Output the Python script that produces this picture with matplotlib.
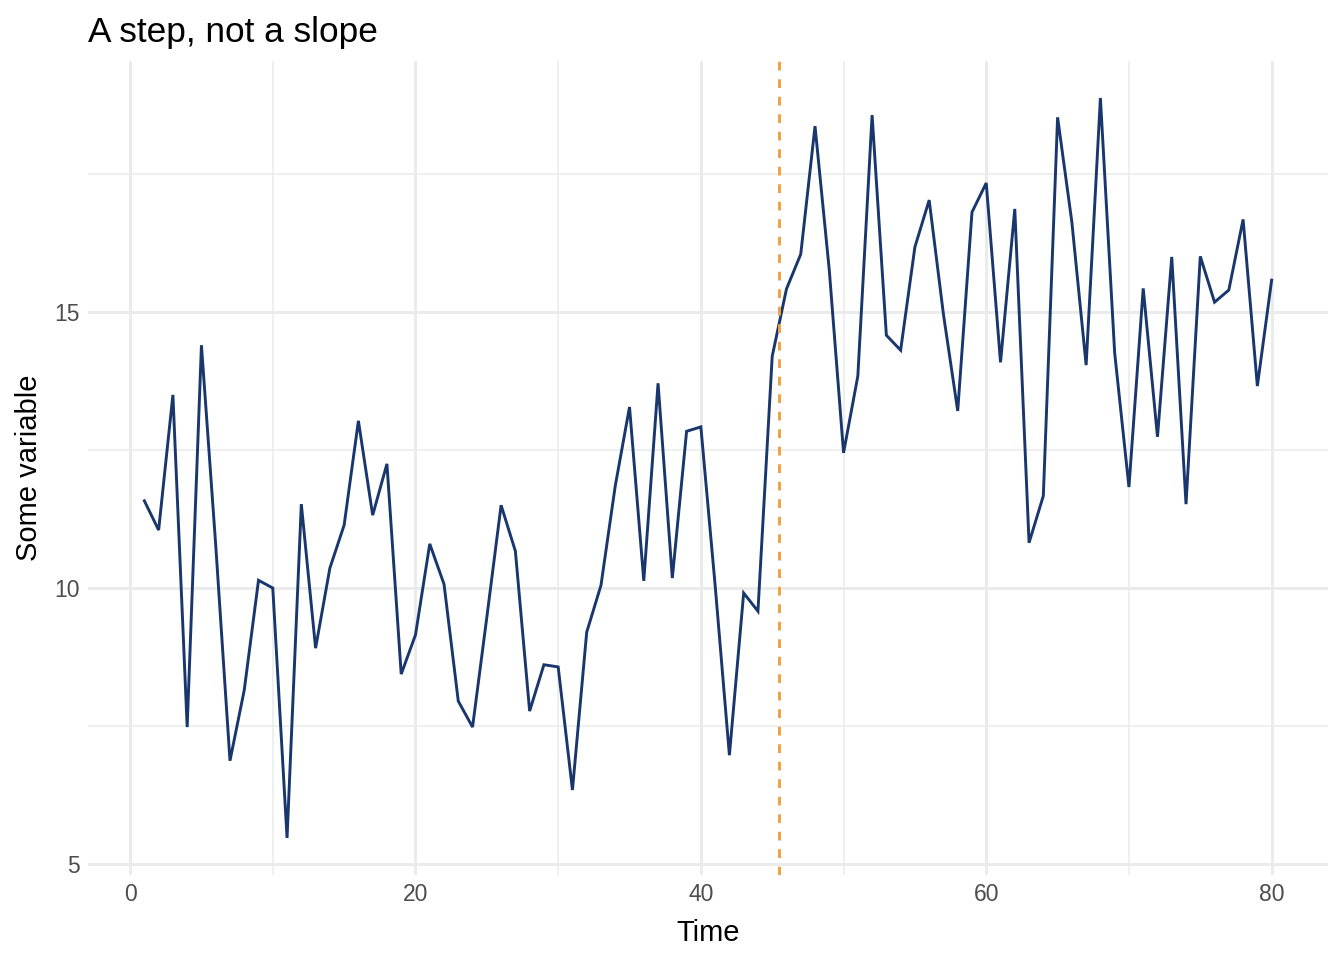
import matplotlib
matplotlib.use("Agg")
import matplotlib.pyplot as plt
from matplotlib.ticker import MultipleLocator

time = list(range(1, 81))
value = [11.58, 11.05, 13.50, 7.48, 14.40, 10.78, 6.87, 8.15, 10.14, 10.00,
         5.47, 11.52, 8.91, 10.36, 11.14, 13.03, 11.32, 12.25, 8.44, 9.15,
         10.80, 10.07, 7.95, 7.48, 9.47, 11.50, 10.67, 7.77, 8.61, 8.57,
         6.34, 9.20, 10.05, 11.85, 13.28, 10.13, 13.71, 10.18, 12.84, 12.92,
         10.05, 6.97, 9.91, 9.58, 14.20, 15.42, 16.05, 18.37, 15.76, 12.45,
         13.84, 18.57, 14.58, 14.31, 16.18, 17.03, 14.96, 13.21, 16.81, 17.34,
         14.09, 16.87, 10.82, 11.67, 18.53, 16.63, 14.04, 18.88, 14.26, 11.83,
         15.43, 12.74, 16.00, 11.52, 16.01, 15.18, 15.40, 16.68, 13.66, 15.58]
step_time = 45.5
x_ticks = [0, 20, 40, 60, 80]
y_ticks = [5, 10, 15]

plt.rcParams['font.family'] = ['Liberation Sans', 'DejaVu Sans']

fig = plt.figure(figsize=(13.44, 9.6), dpi=100)
ax = fig.add_axes([88/1344, 85/960, (1328-88)/1344, (875-61)/960])

ax.plot(time, value, color="#19376D", lw=2.1, zorder=3, solid_joinstyle='miter')
ax.axvline(step_time, color="#EFA142", lw=2.1, ls=(0, (3.0, 3.0)), zorder=4)

xspan = max(time) - min(time)
ax.set_xlim(min(time) - 0.05*xspan, max(time) + 0.05*xspan)
yspan = max(value) - min(value)
ax.set_ylim(min(value) - 0.05*yspan, max(value) + 0.05*yspan)

ax.set_xticks(x_ticks)
ax.set_yticks(y_ticks)
ax.xaxis.set_minor_locator(MultipleLocator(10))
ax.yaxis.set_minor_locator(MultipleLocator(2.5))
ax.grid(which='major', color="#EBEBEB", lw=2.1, zorder=0)
ax.grid(which='minor', color="#EBEBEB", lw=1.1, zorder=0)
ax.set_axisbelow(True)
for s in ax.spines.values():
    s.set_visible(False)
ax.tick_params(which='both', length=0)
ax.tick_params(axis='both', labelsize=16.5, labelcolor="#4D4D4D", pad=6)

ax.set_xlabel("Time", fontsize=21, color="black", labelpad=9)
ax.set_ylabel("Some variable", fontsize=21, color="black", labelpad=8)
ax.set_title("A step, not a slope", fontsize=25.4, loc='left', color="black", pad=14)

fig.savefig("out.png", dpi=100, facecolor="white")
